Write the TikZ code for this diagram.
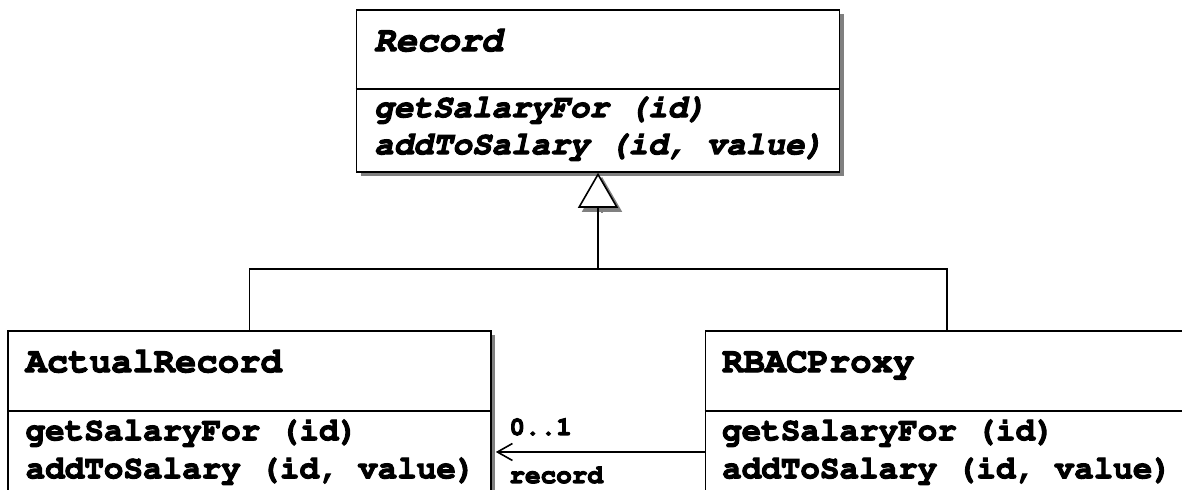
\documentclass[tikz,border=0pt]{standalone}
\usepackage[T1]{fontenc}
\usepackage{courier}
\usetikzlibrary{arrows.meta,shadows}

\begin{document}
\begin{tikzpicture}[
			x=0.5pt, y=-0.5pt,
			heavy/.style={execute at begin node={\special{pdf:literal direct 2 Tr 0.55 w}},
				execute at end node={\special{pdf:literal direct 0 Tr}}},
			classbox/.style={draw, fill=white, line width=0.8pt, inner sep=0pt,
				minimum width=241.5pt, minimum height=81pt,
				drop shadow={shadow xshift=2pt, shadow yshift=-2pt, fill=black!50, opacity=1}},
			classname/.style={heavy, anchor=base west, inner sep=0pt, font=\ttfamily\bfseries\fontsize{17.8}{20}\selectfont},
			method/.style={heavy, anchor=base west, inner sep=0pt, font=\ttfamily\bfseries\fontsize{16.3}{18}\selectfont},
			role/.style={heavy, anchor=base west, inner sep=0pt, font=\ttfamily\bfseries\fontsize{13}{15}\selectfont},
			inherit/.style={line width=0.8pt, -{Triangle[fill=white, length=17.5pt, width=20pt]}},
			assoc/.style={line width=0.8pt, -{Straight Barb[length=7.5pt, width=8.5pt]}}]

		\useasboundingbox (0,0) rectangle (1182,490);
		\clip (0,0) rectangle (1182,490);

		\node[classbox](record) at (598,91) {};
		\node[classbox](actual) at (249.5,412) {};
		\node[classbox](proxy) at (947,412) {};

		\draw[line width=0.8pt] ([shift={(0,80)}]record.north west) -- ([shift={(0,80)}]record.north east);
		\draw[line width=0.8pt] ([shift={(0,81)}]actual.north west) -- ([shift={(0,81)}]actual.north east);
		\draw[line width=0.8pt] ([shift={(0,81)}]proxy.north west) -- ([shift={(0,81)}]proxy.north east);

		\node[classname, font=\ttfamily\bfseries\itshape\fontsize{17.8}{20}\selectfont](recname) at ([shift={(18,42)}]record.north west) {Record};
		\node[method, font=\ttfamily\bfseries\itshape\fontsize{16.3}{18}\selectfont](recget) at ([shift={(18,108)}]record.north west) {getSalaryFor (id)};
		\node[method, font=\ttfamily\bfseries\itshape\fontsize{16.3}{18}\selectfont](recadd) at ([shift={(18,145)}]record.north west) {addToSalary (id, value)};

		\node[classname](actname) at ([shift={(18,42)}]actual.north west) {ActualRecord};
		\node[method](actget) at ([shift={(18,110)}]actual.north west) {getSalaryFor (id)};
		\node[method](actadd) at ([shift={(18,148)}]actual.north west) {addToSalary (id, value)};

		\node[classname](proxname) at ([shift={(17,42)}]proxy.north west) {RBACProxy};
		\node[method](proxget) at ([shift={(17,110)}]proxy.north west) {getSalaryFor (id)};
		\node[method](proxadd) at ([shift={(17,148)}]proxy.north west) {addToSalary (id, value)};

		\coordinate(split) at (598,269);
		\coordinate(link) at (706,452);

		% shadow of the triangle
		\draw[line width=0.8pt, black!50, -{Triangle[fill=black!50, length=17.5pt, width=20pt]}]
			([shift={(4,40)}]record.south) -- ([shift={(4,4)}]record.south);
		\draw[inherit] (actual.north) |- (split) -- (record.south);
		\draw[line width=0.8pt] (proxy.north) |- (split);

		\draw[assoc, shorten >=2pt] (proxy.west |- link) -- (actual.east |- link);
		\node[role](mult) at (509,435) {0..1};
		\node[role](rolename) at (509,483) {record};
	\end{tikzpicture}
\end{document}
